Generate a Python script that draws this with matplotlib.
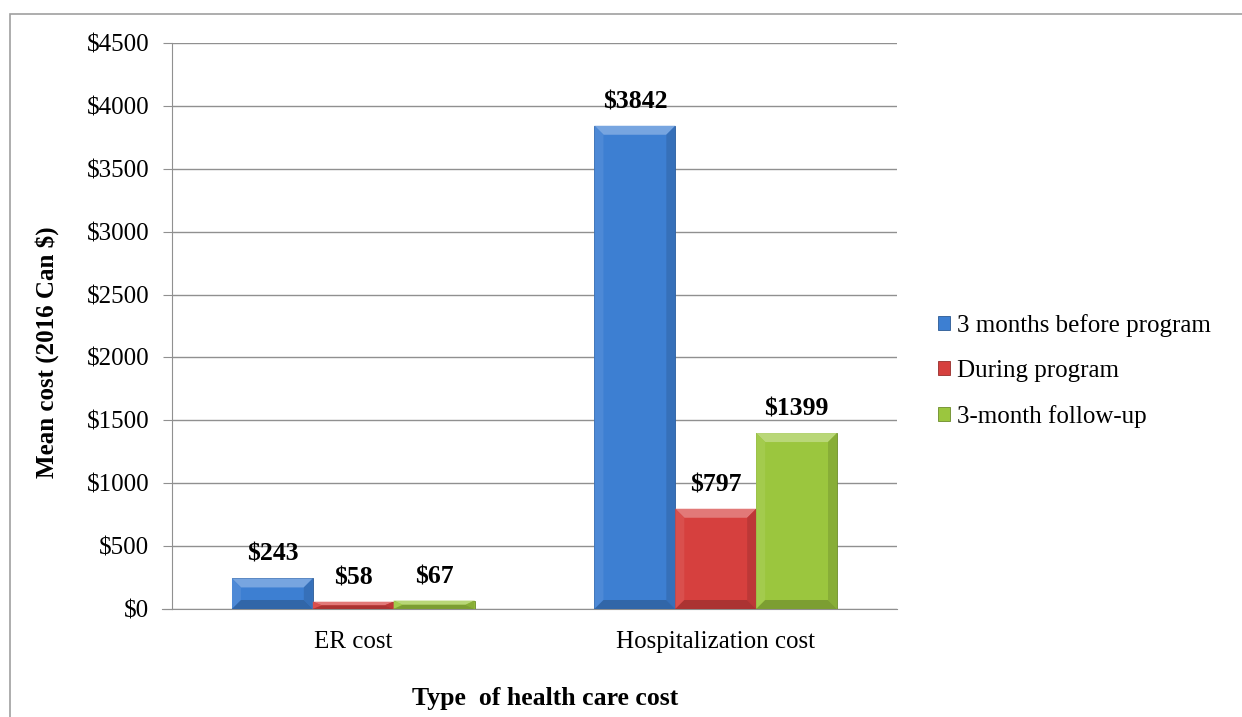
import numpy as np
import matplotlib
matplotlib.use("Agg")
import matplotlib.pyplot as plt
import matplotlib.colors as mcolors
from matplotlib.patches import Rectangle, Polygon

# data
categories = ["ER cost", "Hospitalization cost"]
series_names = ["3 months before program", "During program", "3-month follow-up"]
before_vals = [243, 3842]
during_vals = [58, 797]
followup_vals = [67, 1399]
y_ticks = [0, 500, 1000, 1500, 2000, 2500, 3000, 3500, 4000, 4500]

colors = ["#3D7FD2", "#D6403E", "#9BC63E"]


def shade(c, f):
    # f > 0 lightens toward white, f < 0 darkens toward black
    r = np.array(mcolors.to_rgb(c))
    if f > 0:
        return tuple(r + (1 - r) * f)
    return tuple(r * (1 + f))


plt.rcParams['font.family'] = ['Liberation Serif', 'DejaVu Serif']

fig = plt.figure(figsize=(12.42, 7.17), dpi=100)
ax_l, ax_r, ax_t, ax_b = 172, 897, 43, 609
ax = fig.add_axes([ax_l/1242, 1-ax_b/717, (ax_r-ax_l)/1242, (ax_b-ax_t)/717])

# outer chart border
fig.patches.append(Rectangle((10/1242, -0.01), 1.0, 1-14/717+0.01, transform=fig.transFigure,
                             fill=False, edgecolor="#a0a0a0", lw=1.2))

x = np.arange(len(categories))
w = 0.223
xpp = 2.0 / (ax_r - ax_l)      # data units per pixel, x
ypp = 4500.0 / (ax_b - ax_t)   # data units per pixel, y
all_vals = [before_vals, during_vals, followup_vals]
for i, vals in enumerate(all_vals):
    pos = x + (i - 1) * w
    bars = ax.bar(pos, vals, width=w, color=colors[i], edgecolor=shade(colors[i], -0.3), lw=0.6,
                  label=series_names[i], zorder=3)
    for b, v in zip(bars, vals):
        # simple bevel look
        x0, x1 = b.get_x(), b.get_x() + b.get_width()
        y0, y1 = 0, v
        bx = 9 * xpp
        by = min(9 * ypp, (y1 - y0) / 2)
        polys = [
            ([(x0, y1), (x1, y1), (x1 - bx, y1 - by), (x0 + bx, y1 - by)], 0.3),
            ([(x0, y0), (x0, y1), (x0 + bx, y1 - by), (x0 + bx, y0 + by)], 0.08),
            ([(x1, y0), (x1, y1), (x1 - bx, y1 - by), (x1 - bx, y0 + by)], -0.12),
            ([(x0, y0), (x1, y0), (x1 - bx, y0 + by), (x0 + bx, y0 + by)], -0.2),
        ]
        for pts, f in polys:
            ax.add_patch(Polygon(pts, closed=True, facecolor=shade(colors[i], f), lw=0, zorder=3.5))
        ax.text(b.get_x() + b.get_width()/2, v + 24 * ypp, "$%d" % v, ha="center", va="center",
                fontsize=18.5, fontweight="bold", color="black", zorder=4)

ax.set_xlim(-0.5, 1.5)
ax.set_ylim(0, 4500)
ax.set_yticks(y_ticks)
ax.set_yticklabels(["$%d" % t for t in y_ticks], fontsize=18)
ax.set_xticks(x)
ax.set_xticklabels(categories, fontsize=18)
ax.tick_params(axis="x", length=0, pad=16)
ax.tick_params(axis="y", length=6.5, color="#909090", pad=10)
ax.grid(axis="y", color="#909090", lw=1.0, zorder=0)
for s in ["top", "right"]:
    ax.spines[s].set_visible(False)
ax.spines["left"].set_color("#909090")
ax.spines["bottom"].set_color("#909090")
ax.plot([-10/(ax_r-ax_l), 0], [0, 0], transform=ax.transAxes, color="#909090", lw=0.8, clip_on=False)

ax.set_ylabel("Mean cost (2016 Can $)", fontsize=18, fontweight="bold", va="center")
ax.yaxis.set_label_coords((47-ax_l)/(ax_r-ax_l), (ax_b-352)/(ax_b-ax_t))
ax.set_xlabel("Type  of health care cost", fontsize=18.5, fontweight="bold", va="center")
ax.xaxis.set_label_coords((545-ax_l)/(ax_r-ax_l), (ax_b-699)/(ax_b-ax_t))

ax.legend(loc="center left", bbox_to_anchor=(916/1242, 1-371/717), bbox_transform=fig.transFigure,
          frameon=False, fontsize=18, handlelength=0.45, handleheight=0.45, handletextpad=0.3,
          labelspacing=0.92)

fig.savefig("out.png", dpi=100)
